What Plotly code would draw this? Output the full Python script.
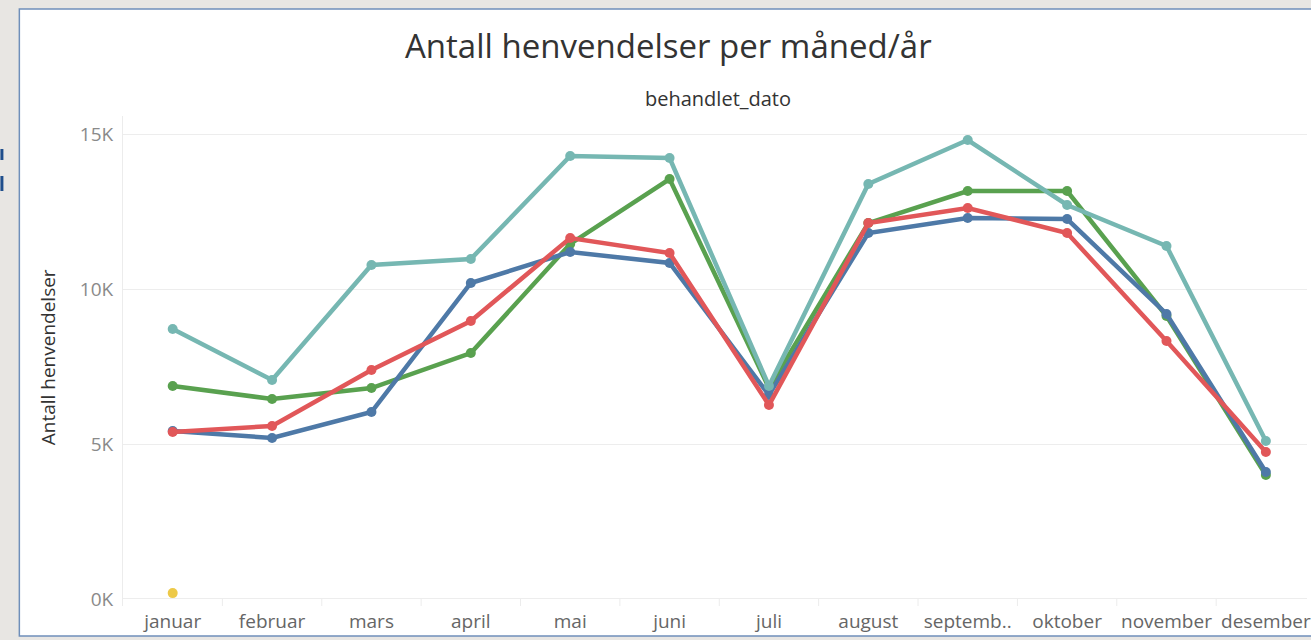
import plotly.graph_objects as go

months = ["januar", "februar", "mars", "april", "mai", "juni", "juli",
          "august", "septemb..", "oktober", "november", "desember"]

# series values (antall henvendelser)
series_green = [6871, 6452, 6806, 7935, 11452, 13548, 6806, 12129, 13161, 13161, 9129, 4000]
series_blue = [5419, 5194, 6032, 10194, 11194, 10839, 6581, 11806, 12290, 12258, 9194, 4097]
series_red = [5387, 5581, 7387, 8968, 11645, 11161, 6258, 12129, 12613, 11806, 8323, 4742]
series_teal = [8710, 7065, 10774, 10968, 14290, 14226, 6871, 13387, 14806, 12710, 11387, 5097]
series_yellow = [190]
yellow_months = ["januar"]

ytick_vals = [0, 5000, 10000, 15000]
ytick_text = ["0K", "5K", "10K", "15K"]

W, H = 1311, 640
L, R, T, B = 123, 0, 116, 34
pw, ph = W - L - R, H - T - B

def px(x):
    return (x - L) / pw

def py(y):
    return (H - B - y) / ph

fig = go.Figure()

traces = [
    ("green", series_green, "#59a14f"),
    ("blue", series_blue, "#4e79a7"),
    ("red", series_red, "#e15759"),
    ("teal", series_teal, "#76b7b2"),
]
for name, vals, col in traces:
    fig.add_trace(go.Scatter(
        x=months, y=vals, mode="lines+markers", name=name,
        line=dict(color=col, width=4.5),
        marker=dict(color=col, size=10),
        showlegend=False,
    ))
fig.add_trace(go.Scatter(
    x=yellow_months, y=series_yellow, mode="markers", name="yellow",
    marker=dict(color="#edc948", size=10), showlegend=False,
))

shapes = []
# white frame with blue border
shapes.append(dict(type="rect", xref="paper", yref="paper",
                   x0=px(19), x1=px(1330), y0=py(636), y1=py(9),
                   fillcolor="white", line=dict(color="#6f8fba", width=1.5),
                   layer="below"))
# small dark-blue marks on the left edge
shapes.append(dict(type="rect", xref="paper", yref="paper",
                   x0=px(0), x1=px(3), y0=py(160), y1=py(149),
                   fillcolor="#1f4e8c", line=dict(width=0), layer="below"))
shapes.append(dict(type="rect", xref="paper", yref="paper",
                   x0=px(0), x1=px(3), y0=py(191), y1=py(176),
                   fillcolor="#1f4e8c", line=dict(width=0), layer="below"))
# dividers between month headers
for i in range(len(months)):
    shapes.append(dict(type="line", xref="x", yref="paper",
                       x0=i + 0.5, x1=i + 0.5, y0=0, y1=py(599),
                       line=dict(color="#ececec", width=1)))

annotations = [
    dict(text="Antall henvendelser per måned/år", x=px(670), y=py(45),
         xref="paper", yref="paper", showarrow=False,
         font=dict(family="Open Sans", size=33, color="#333333"),
         xanchor="center", yanchor="middle"),
    dict(text="behandlet_dato", x=px(720), y=py(98),
         xref="paper", yref="paper", showarrow=False,
         font=dict(family="Open Sans", size=20, color="#333333"),
         xanchor="center", yanchor="middle"),
    dict(text="Antall henvendelser", x=px(48), y=py(357),
         xref="paper", yref="paper", showarrow=False, textangle=-90,
         font=dict(family="Open Sans", size=19, color="#333333"),
         xanchor="center", yanchor="middle"),
]

fig.update_layout(
    width=W, height=H,
    margin=dict(l=L, r=R, t=T, b=B, pad=0),
    paper_bgcolor="#e8e6e3",
    plot_bgcolor="rgba(0,0,0,0)",
    shapes=shapes,
    annotations=annotations,
    font=dict(family="Open Sans", color="#666666"),
    xaxis=dict(
        type="category", categoryorder="array", categoryarray=months,
        range=[-0.5, 11.414], showgrid=False, zeroline=False,
        showline=False, ticks="",
        tickfont=dict(family="Open Sans", size=19, color="#666666"),
        ticklabelstandoff=2,
    ),
    yaxis=dict(
        range=[-226, 15581], tickvals=ytick_vals, ticktext=ytick_text,
        showgrid=True, gridcolor="#ededed", gridwidth=1,
        zeroline=False, showline=True, linecolor="#ececec", linewidth=1,
        ticks="", ticklabelstandoff=5,
        tickfont=dict(family="Open Sans", size=19, color="#8a8a8a"),
    ),
)

fig.write_html("out.html", config={"displayModeBar": False},
               post_script="document.body.style.margin='0';document.body.style.overflow='hidden';")
